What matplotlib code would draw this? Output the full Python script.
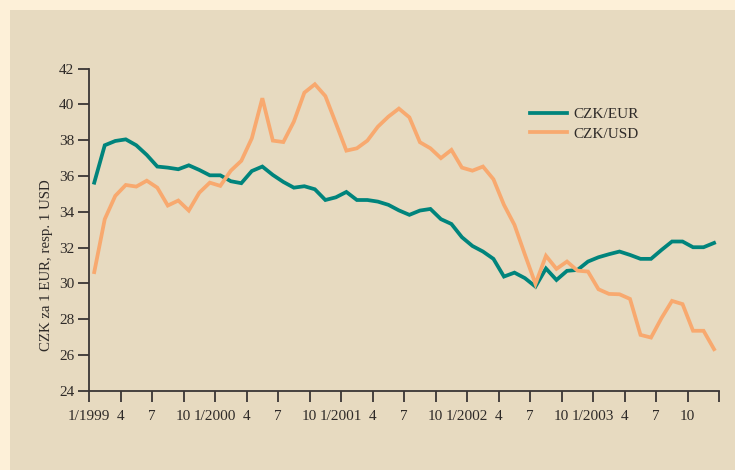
import matplotlib
matplotlib.use("Agg")
import matplotlib.pyplot as plt
from matplotlib.patches import Rectangle

# --- data: monthly averages 1/1999 .. 12/2003 ---
months = list(range(60))
czk_eur = [35.63, 37.72, 37.96, 38.05, 37.72, 37.18, 36.53, 36.47, 36.38, 36.60,
           36.34, 36.04, 36.04, 35.71, 35.60, 36.28, 36.53, 36.06, 35.67, 35.35,
           35.43, 35.26, 34.66, 34.81, 35.11, 34.66, 34.66, 34.57, 34.39, 34.08,
           33.83, 34.07, 34.16, 33.59, 33.32, 32.58, 32.09, 31.78, 31.37, 30.38,
           30.60, 30.29, 29.82, 30.83, 30.19, 30.70, 30.75, 31.22, 31.46, 31.63,
           31.78, 31.59, 31.37, 31.37, 31.87, 32.34, 32.34, 32.02, 32.02, 32.26]
czk_usd = [30.63, 33.59, 34.89, 35.50, 35.41, 35.74, 35.35, 34.35, 34.63, 34.07,
           35.07, 35.63, 35.45, 36.30, 36.85, 38.11, 40.35, 37.98, 37.90, 39.04,
           40.66, 41.13, 40.47, 38.95, 37.42, 37.55, 37.98, 38.76, 39.32, 39.77,
           39.28, 37.89, 37.55, 37.00, 37.46, 36.47, 36.30, 36.53, 35.82, 34.39,
           33.27, 31.60, 29.97, 31.54, 30.81, 31.22, 30.71, 30.66, 29.67, 29.41,
           29.39, 29.13, 27.12, 26.97, 28.06, 29.02, 28.84, 27.35, 27.35, 26.32]
tick_labels = ["1/1999", "4", "7", "10", "1/2000", "4", "7", "10", "1/2001", "4",
               "7", "10", "1/2002", "4", "7", "10", "1/2003", "4", "7", "10", ""]
y_ticks = [24, 26, 28, 30, 32, 34, 36, 38, 40, 42]
series_labels = ["CZK/EUR", "CZK/USD"]
y_label = "CZK za 1 EUR, resp. 1 USD"

outer_bg = "#FDF0D8"
panel_bg = "#E7DAC0"
teal = "#00847C"
orange = "#F8A96F"
axis_col = "#3A3535"
text_col = "#2E2A28"

plt.rcParams['font.family'] = ['Liberation Serif', 'DejaVu Serif']

fig = plt.figure(figsize=(7.35, 4.70), dpi=100, facecolor=outer_bg)
fig.patches.append(Rectangle((10 / 735, 0), 1, 460 / 470, transform=fig.transFigure,
                             facecolor=panel_bg, edgecolor="none", zorder=-10))

ax = fig.add_axes([89 / 735, 1 - 390.7 / 470, 630.3 / 735, 322 / 470])
ax.set_facecolor("none")

x = [m + 0.5 for m in months]
ax.plot(x, czk_eur, color=teal, lw=2.7, label=series_labels[0], solid_joinstyle="miter")
ax.plot(x, czk_usd, color=orange, lw=2.7, label=series_labels[1], solid_joinstyle="miter")

ax.set_xlim(0, 60)
ax.set_ylim(24, 42)
ax.set_xticks(list(range(0, 61, 3)))
ax.set_xticklabels(tick_labels)
ax.set_yticks(y_ticks)

for s in ["top", "right"]:
    ax.spines[s].set_visible(False)
for s in ["left", "bottom"]:
    ax.spines[s].set_color(axis_col)
    ax.spines[s].set_linewidth(1.3)

ax.tick_params(axis="both", direction="out", length=7.7, width=1.3, color=axis_col,
               labelsize=11, labelcolor=text_col)
ax.tick_params(axis="x", pad=6.5)
ax.tick_params(axis="y", pad=3)

ax.set_ylabel(y_label, fontsize=10.7, color=text_col)
ax.yaxis.set_label_coords(-0.057, 0.39)

leg = ax.legend(loc="upper left", bbox_to_anchor=(0.70, 0.88), frameon=False,
                fontsize=11, handlelength=2.4, handletextpad=0.45,
                labelspacing=0.4, borderpad=0, borderaxespad=0)
for t in leg.get_texts():
    t.set_color(text_col)

fig.savefig("out.png", dpi=100, facecolor=outer_bg)
